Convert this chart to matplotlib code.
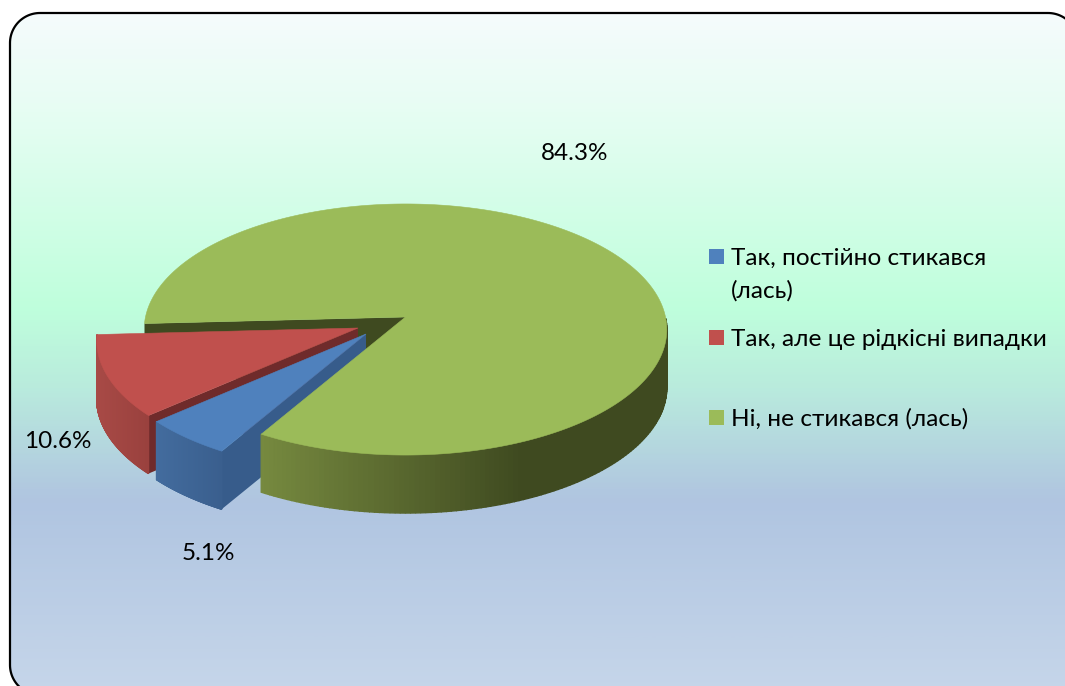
import numpy as np
import matplotlib
matplotlib.use("Agg")
import matplotlib.pyplot as plt
from matplotlib.colors import LinearSegmentedColormap, to_rgb
from matplotlib.patches import Polygon, Rectangle

categories = [["Так, постійно стикався", "(лась)"], ["Так, але це рідкісні випадки"], ["Ні, не стикався (лась)"]]
shares = [5.1, 10.6, 84.3]
colors = ["#4F81BD", "#C0504D", "#9BBB59"]

W, H = 1065, 686
plt.rcParams["font.family"] = ["Lato", "Open Sans", "DejaVu Sans"]

A, B, P = 260.0, 124.3, 0.0996  # circle seen in perspective
DEPTH = 58
START = 183.0  # angle where the slices start, going counter-clockwise

# slice apex in pixels, exploded slices move away from the centre
apex = {0: (366, 334), 1: (358, 328), 2: (405.5, 317)}
wall_light = ["#436C9E", "#A84A46", "#76893F"]
wall_dark = ["#3A5F8E", "#9A413E", "#3F4A20"]
cut_color = ["#375C8B", "#6F2B2B", "#3F4A20"]


def rim(cx, cy, ang):
    a = np.radians(ang)
    c, s = np.cos(a), np.sin(a)
    d = 1 + P * s
    return cx + A * c / d, cy - B * s / d


def mix(c1, c2, t):
    c1, c2 = np.array(to_rgb(c1)), np.array(to_rgb(c2))
    return tuple(c1 + (c2 - c1) * t)


def round_box(x0, y0, x1, y1, r):
    pts = []
    for cx, cy, a0 in [(x1 - r, y0 + r, -90), (x1 - r, y1 - r, 0), (x0 + r, y1 - r, 90), (x0 + r, y0 + r, 180)]:
        t = np.radians(np.linspace(a0, a0 + 90, 30))
        pts += list(zip(cx + r * np.cos(t), cy + r * np.sin(t)))
    return pts


fig = plt.figure(figsize=(W / 100, H / 100), dpi=100, facecolor="white")
ax = fig.add_axes([0, 0, 1, 1])

# rounded panel with vertical gradient
grad = LinearSegmentedColormap.from_list("bg", [
    (0.0, "#F5FBFC"), (0.13, "#E8FDF4"), (0.43, "#BFFFDC"),
    (0.55, "#B9EBDD"), (0.70, "#B1C8E0"), (0.72, "#B0C5E1"), (1.0, "#C6D6EA")])
img = ax.imshow(np.linspace(0, 1, 400).reshape(-1, 1), cmap=grad, extent=[10, 1078, 695, 13],
                aspect="auto", zorder=1)
box = Polygon(round_box(10, 13, 1078, 695, 30), closed=True, fc="none", ec="black", lw=1.6, zorder=2)
ax.add_patch(box)
img.set_clip_path(box)
ax.set_xlim(0, W)
ax.set_ylim(H, 0)
ax.axis("off")

# slice angle ranges, blue sits next to the green start, red next to the green end
a_red_hi = START + shares[1] * 3.6
a_blue_hi = a_red_hi + shares[0] * 3.6
ranges = {1: (START, a_red_hi), 0: (a_red_hi, a_blue_hi), 2: (a_blue_hi, START + 360)}

# green inside wall goes first, everything else covers it
gx, gy = apex[2]
x0, y0 = rim(gx, gy, START)
ax.add_patch(Polygon([(gx, gy), (x0, y0), (x0, y0 + DEPTH), (gx, gy + DEPTH)], fc=cut_color[2], ec="none", zorder=3))

z = 4
for i in [1, 0, 2]:
    cx, cy = apex[i]
    lo, hi = ranges[i]
    ang = np.linspace(lo, hi, 300)
    xs, ys = rim(cx, cy, ang)

    # cut face on the side towards the viewer
    if i != 2:
        xc, yc = rim(cx, cy, hi)
        ax.add_patch(Polygon([(cx, cy), (xc, yc), (xc, yc + DEPTH), (cx, cy + DEPTH)],
                             fc=cut_color[i], ec="none", zorder=z))

    # outer wall in small strips so it can carry the shading
    front = (np.sin(np.radians(ang)) < 0.0) & (ang <= 361)
    x_min, x_max = xs[front].min(), min(xs[front].max(), 520 if i == 2 else 1e4)
    for k in range(len(ang) - 1):
        if not (front[k] and front[k + 1]):
            continue
        t = np.clip((xs[k] - x_min) / max(x_max - x_min, 1), 0, 1)
        col = mix(wall_light[i], wall_dark[i], t)
        ax.add_patch(Polygon([(xs[k], ys[k]), (xs[k + 1], ys[k + 1]),
                              (xs[k + 1], ys[k + 1] + DEPTH), (xs[k], ys[k] + DEPTH)],
                             fc=col, ec=col, lw=1.0, zorder=z))
    z += 1

    # top
    pts = [(cx, cy)] + list(zip(xs, ys))
    ax.add_patch(Polygon(pts, fc=colors[i], ec=colors[i], lw=0.4, zorder=z))
    z += 1

# percent labels
label_pos = [(208, 554), (58, 442), (575, 153)]
for v, (lx, ly) in zip(shares, label_pos):
    ax.text(lx, ly, f"{v}%", fontsize=17.5, ha="center", va="center", color="black", zorder=20)

# legend
legend_y = [258, 339, 419]
for lines, col, ly in zip(categories, colors, legend_y):
    ax.add_patch(Rectangle((709, ly - 9), 15, 15, fc=col, ec="none", zorder=20))
    for n, line in enumerate(lines):
        ax.text(731, ly + 33 * n, line, fontsize=17.6, ha="left", va="center", color="black", zorder=20)

fig.savefig("out.png", dpi=100)
